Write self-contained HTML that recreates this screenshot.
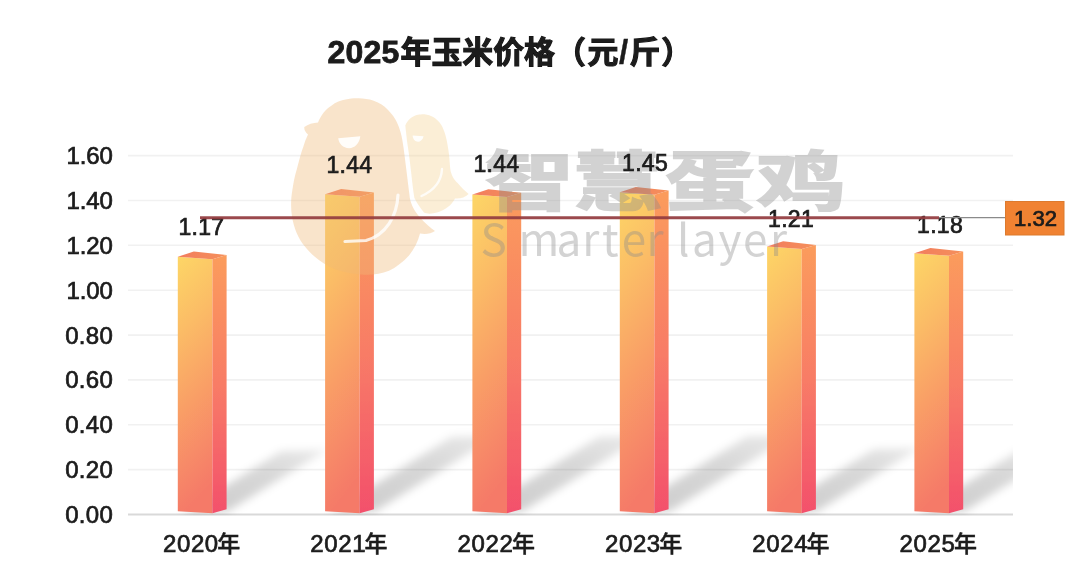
<!DOCTYPE html>
<html lang="zh"><head><meta charset="utf-8"><title>2025年玉米价格（元/斤）</title>
<style>
html,body{margin:0;padding:0;background:#fff}
body{width:1080px;height:572px;overflow:hidden}
svg{display:block}
text{font-family:"Liberation Sans","Noto Sans CJK SC",sans-serif;fill:#1a1a1a;stroke:#1a1a1a;stroke-width:0.7px;paint-order:stroke fill}
.cj{font-family:"Noto Sans CJK SC","Liberation Sans",sans-serif;font-weight:500;stroke-width:0.45px}
.wmc{font-family:"Noto Sans CJK SC","Liberation Sans",sans-serif;font-weight:700;fill:#8c8c8c;stroke:#8c8c8c;stroke-width:1.9px;fill-opacity:1;opacity:0.38}
.wm{font-family:"Noto Sans CJK SC","Liberation Sans",sans-serif;font-weight:300;fill:#8c8c8c;fill-opacity:0.38;stroke:none}
</style></head><body>
<svg width="1080" height="572" viewBox="0 0 1080 572">
<defs>
<linearGradient id="gf" x1="0" y1="0" x2="0.14" y2="1"><stop offset="0" stop-color="#fdd666"/><stop offset="0.3" stop-color="#fbbc66"/><stop offset="0.62" stop-color="#f99d66"/><stop offset="1" stop-color="#f57a68"/></linearGradient>
<linearGradient id="gs" x1="0" y1="0" x2="0" y2="1"><stop offset="0" stop-color="#fb9c5c"/><stop offset="0.5" stop-color="#f87c66"/><stop offset="1" stop-color="#f3506c"/></linearGradient>
<linearGradient id="gt" x1="0" y1="0" x2="1" y2="0"><stop offset="0" stop-color="#f27c5e"/><stop offset="1" stop-color="#f5905a"/></linearGradient>
<linearGradient id="gsh" gradientUnits="objectBoundingBox" x1="0" y1="1" x2="1" y2="0"><stop offset="0" stop-color="#000" stop-opacity="0.20"/><stop offset="0.6" stop-color="#000" stop-opacity="0.155"/><stop offset="1" stop-color="#000" stop-opacity="0.08"/></linearGradient>
<filter id="bl" x="-20%" y="-30%" width="140%" height="160%"><feGaussianBlur stdDeviation="4.5"/></filter>
<filter id="soft" x="-5%" y="-5%" width="110%" height="110%"><feGaussianBlur stdDeviation="0.5"/></filter>
<filter id="all" x="0" y="0" width="100%" height="100%" filterUnits="userSpaceOnUse"><feGaussianBlur stdDeviation="0.55"/></filter>
<clipPath id="plot"><rect x="128" y="100" width="885" height="415.5"/></clipPath>
</defs>
<rect width="1080" height="572" fill="#fff"/>
<g filter="url(#all)">
<rect width="1080" height="572" fill="#fff"/>

<g stroke="#f1f1f1" stroke-width="1.6">
<line x1="128" y1="469.6" x2="1013" y2="469.6"/>
<line x1="128" y1="424.8" x2="1013" y2="424.8"/>
<line x1="128" y1="379.9" x2="1013" y2="379.9"/>
<line x1="128" y1="335.1" x2="1013" y2="335.1"/>
<line x1="128" y1="290.2" x2="1013" y2="290.2"/>
<line x1="128" y1="245.3" x2="1013" y2="245.3"/>
<line x1="128" y1="200.5" x2="1013" y2="200.5"/>
<line x1="128" y1="155.6" x2="1013" y2="155.6"/>
</g>
<line x1="128" y1="514.5" x2="1013" y2="514.5" stroke="#d9d9d9" stroke-width="2"/>
<g font-size="24">
<text x="65.2" y="522.9" textLength="47.6">0.00</text>
<text x="65.2" y="478.0" textLength="47.6">0.20</text>
<text x="65.2" y="433.2" textLength="47.6">0.40</text>
<text x="65.2" y="388.3" textLength="47.6">0.60</text>
<text x="65.2" y="343.5" textLength="47.6">0.80</text>
<text x="66.6" y="298.6" textLength="46.2">1.00</text>
<text x="66.6" y="253.7" textLength="46.2">1.20</text>
<text x="66.6" y="208.9" textLength="46.2">1.40</text>
<text x="66.6" y="164.0" textLength="46.2">1.60</text>
</g>
<g clip-path="url(#plot)"><g filter="url(#bl)">
<polygon fill="url(#gsh)" points="181.8,513.0 227.6,511.5 327.1,449.8 281.3,451.3"/>
<polygon fill="url(#gsh)" points="329.1,513.0 374.9,511.5 497.3,435.6 451.5,437.1"/>
<polygon fill="url(#gsh)" points="476.4,513.0 522.2,511.5 644.7,435.6 598.9,437.1"/>
<polygon fill="url(#gsh)" points="623.8,513.0 669.6,511.5 792.8,435.1 747.0,436.6"/>
<polygon fill="url(#gsh)" points="771.1,513.0 816.9,511.5 919.8,447.7 874.0,449.2"/>
<polygon fill="url(#gsh)" points="918.4,513.0 964.2,511.5 1064.5,449.3 1018.7,450.8"/>
</g></g>
<g filter="url(#soft)">
<polygon fill="url(#gf)" points="177.8,256.7 212.4,259.2 212.4,513.3 177.8,511.2"/>
<polygon fill="url(#gs)" points="212.4,259.2 226.6,255.1 226.6,509.2 212.4,513.3"/>
<polygon fill="url(#gt)" points="177.8,256.7 193.8,251.5 226.6,255.1 212.4,259.2"/>
<polygon fill="url(#gf)" points="325.1,194.2 359.7,196.7 359.7,513.3 325.1,511.2"/>
<polygon fill="url(#gs)" points="359.7,196.7 373.9,192.6 373.9,509.2 359.7,513.3"/>
<polygon fill="url(#gt)" points="325.1,194.2 341.1,189.0 373.9,192.6 359.7,196.7"/>
<polygon fill="url(#gf)" points="472.4,194.4 507.0,196.9 507.0,513.3 472.4,511.2"/>
<polygon fill="url(#gs)" points="507.0,196.9 521.2,192.8 521.2,509.2 507.0,513.3"/>
<polygon fill="url(#gt)" points="472.4,194.4 488.4,189.2 521.2,192.8 507.0,196.9"/>
<polygon fill="url(#gf)" points="619.8,192.2 654.4,194.7 654.4,513.3 619.8,511.2"/>
<polygon fill="url(#gs)" points="654.4,194.7 668.6,190.6 668.6,509.2 654.4,513.3"/>
<polygon fill="url(#gt)" points="619.8,192.2 635.8,187.0 668.6,190.6 654.4,194.7"/>
<polygon fill="url(#gf)" points="767.1,246.5 801.7,249.0 801.7,513.3 767.1,511.2"/>
<polygon fill="url(#gs)" points="801.7,249.0 815.9,244.9 815.9,509.2 801.7,513.3"/>
<polygon fill="url(#gt)" points="767.1,246.5 783.1,241.3 815.9,244.9 801.7,249.0"/>
<polygon fill="url(#gf)" points="914.4,253.2 949.0,255.7 949.0,513.3 914.4,511.2"/>
<polygon fill="url(#gs)" points="949.0,255.7 963.2,251.6 963.2,509.2 949.0,513.3"/>
<polygon fill="url(#gt)" points="914.4,253.2 930.4,248.0 963.2,251.6 949.0,255.7"/>
</g>
<g id="watermark">
<path fill="#f3d08e" fill-opacity="0.36" d="M405.3,125.5 C407.5,120 412,116 418,114.8 C421,114.2 423,114.1 424.5,114.3 C431,115 437,118.5 441,124.4 C445,131 447,140 448.4,150 C449.3,156 449.7,162 450.2,168.4 C451,175 454,179.5 457.6,183 C461,187 465,191 468.6,194 C465,197.5 460,199 455,198.5 C452,205 445,210 437,212.5 C432,214 427,214 424,212.5 C421,209 417.3,204 414.3,197.8 C412.8,188 411.8,178 410.7,168.4 C409.6,159 408.5,150 407,141 C406.4,135 405.8,130 405.3,125.5 Z"/>
<path fill="#f0b878" fill-opacity="0.385" d="M304.3,127.1 C308,124 313,123 318,122.5 C321,115 326,109 331,106 C336,102 341,100.3 345.6,99.6 C350,98.5 354,98.2 358.4,98.3 C364,98.4 369,99.2 373,100.5 C379,102.5 384,105.7 387.8,109.7 C392,114 395,118 397,122.5 C400,129 401.5,135 402.5,141 C404,150 405,159 406.2,168.4 C407.5,178 408.5,188 409.8,197.8 C411,205 415,212 420,217.5 C425,223 430,227.5 435,231 C431,234 425,234.5 420,233.5 C418,242 414,249 409,255.5 C403,262 396,267.5 389,270.8 C380,274.5 370,275.5 360.8,274.5 C349,273.5 338,271 329,266.5 C319,261 311,254.5 304.5,246 C298,238 294,228 292,216.7 C290.5,207 291,198 292.3,190.5 C293.5,182 295,175 297,168.4 C299,160.5 301,153 303.4,146.4 C304.5,142.5 306,138.5 308,134.5 C305.5,132.5 304,130 304.3,127.1 Z"/>
<g fill="#fff" fill-opacity="0.9"><path d="M338.2,138.3 L360.3,136.3 C359.5,144 354,148.4 349,148.2 C343,148 339,144 338.2,138.3 Z"/><path d="M412.6,135.6 L423.6,136.3 C422.8,140 420,141.9 418,141.8 C415,141.7 413,139.5 412.6,135.6 Z"/></g>
<g fill="none" stroke="#fff" stroke-opacity="0.8" stroke-width="3.2" stroke-linecap="round"><path d="M398,195 C397,216 386,235 366,240.5 L345,241.5"/><path d="M442,169 C441.5,179 436,189.5 421.5,196" stroke-width="2.4"/></g>
<g fill="#8c8c8c" fill-opacity="0.40" stroke="none" style="font-family:"Noto Sans CJK SC","Liberation Sans",sans-serif;font-weight:300">
<text transform="translate(484.8,205.4) scale(1.37,1)" x="0 64.2 131.7 198.3" y="0" font-size="65" class="wmc">智慧蛋鸡</text>
<text x="480.5 518.4 556.4 582.3 601.9 621.8 646.4 662.0 677.0 691.9 718.4 743.0 770.1" y="256.3" font-size="44" class="wm" style="font-weight:400">Smarter layer</text>
</g>
<g font-size="23">
<text x="178.5" y="235.0" textLength="45.6">1.17</text>
<text x="326.4" y="173.2" textLength="45.6">1.44</text>
<text x="473.5" y="172.4" textLength="45.6">1.44</text>
<text x="622.1" y="171.2" textLength="45.6">1.45</text>
<text x="768.1" y="227.2" textLength="45.6">1.21</text>
<text x="917.1" y="233.2" textLength="45.6">1.18</text>
</g>
<g font-size="24">
<text x="163.0" y="552" textLength="55.2">2020</text>
<text class="cj" x="217.3" y="552" font-size="23">年</text>
<text x="310.3" y="552" textLength="55.2">2021</text>
<text class="cj" x="364.6" y="552" font-size="23">年</text>
<text x="457.6" y="552" textLength="55.2">2022</text>
<text class="cj" x="511.9" y="552" font-size="23">年</text>
<text x="605.0" y="552" textLength="55.2">2023</text>
<text class="cj" x="659.3" y="552" font-size="23">年</text>
<text x="752.3" y="552" textLength="55.2">2024</text>
<text class="cj" x="806.6" y="552" font-size="23">年</text>
<text x="899.6" y="552" textLength="55.2">2025</text>
<text class="cj" x="953.9" y="552" font-size="23">年</text>
</g>
<line x1="939" y1="217.7" x2="1006" y2="217.7" stroke="#8a8a8a" stroke-width="1.3"/>
<line x1="200" y1="217.7" x2="939" y2="217.7" stroke="#933c40" stroke-opacity="0.93" stroke-width="3.1"/>
<rect x="1005.5" y="201.5" width="58.5" height="33.5" fill="#f08231" stroke="#dc7a2e" stroke-width="1"/>
<text x="1014" y="226" font-size="21.5" textLength="43" lengthAdjust="spacingAndGlyphs" fill="#3a1608">1.32</text>
<g font-weight="bold" style="stroke:#111;stroke-width:0.9px">
<text x="327.6" y="63" font-size="32" textLength="71.6" fill="#111" style="stroke-width:0.8px">2025</text>
<text class="cj" x="400.5" y="62.5" font-size="30.9" fill="#111" style="font-weight:700;stroke:#111;stroke-width:1.1px">年玉米价格（<tspan dx="1.7">元</tspan><tspan dx="0.6" font-size="33" style="font-family:'Liberation Sans',sans-serif;stroke-width:0.4px">/</tspan><tspan dx="1.2">斤</tspan><tspan dx="0.8">）</tspan></text>
</g>
</g>
</svg></body></html>
